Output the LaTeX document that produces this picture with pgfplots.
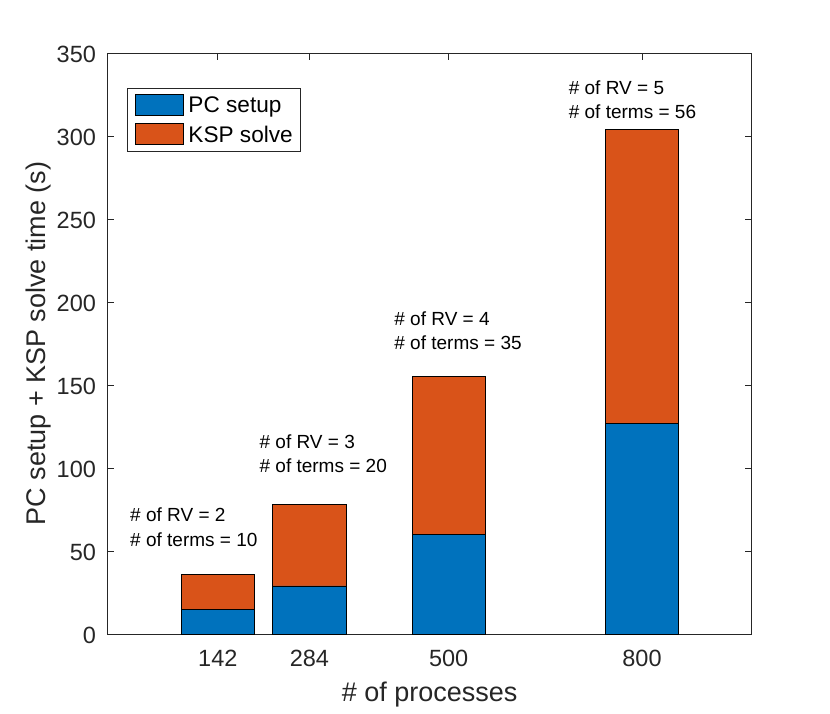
\documentclass[border=0pt]{standalone}
\usepackage{pgfplots}
\pgfplotsset{compat=1.18}
\usepackage{fontspec}
\setmainfont{Liberation Sans}
\definecolor{mblue}{RGB}{0,114,189}
\definecolor{morange}{RGB}{217,83,25}
\definecolor{axgray}{RGB}{38,38,38}
\begin{document}
\begin{tikzpicture}
\path[use as bounding box] (0,0) rectangle (830pt,713pt);
\begin{axis}[
  at={(107.6pt,79pt)}, anchor=south west,
  scale only axis, width=644pt, height=581pt,
  xmin=-29, xmax=970, ymin=0, ymax=350,
  xtick={142,284,500,800}, ytick={0,50,...,350},
  ybar stacked, bar width=113.6, bar shift=0pt,
  clip=false,
  axis line style={axgray, line width=0.8pt},
  tick style={axgray, line width=0.8pt},
  major tick length=6.5pt,
  tick align=inside,
  /pgf/number format/assume math mode=true,
  ticklabel style={font=\fontsize{23.5}{28}\selectfont, text=axgray},
  xticklabel style={inner sep=0pt, anchor=north, yshift=-16pt},
  yticklabel style={inner sep=0pt, anchor=east, xshift=-11.5pt, yshift=-1.5pt},
  xlabel={\# of processes},
  ylabel={PC setup + KSP solve time (s)},
  xlabel style={at={(axis description cs:0.5,0)}, anchor=base, yshift=-67pt, font=\fontsize{27}{30}\selectfont, text=axgray},
  ylabel style={at={(axis description cs:-0.0972,0.5)}, anchor=base, font=\fontsize{27}{30}\selectfont, text=axgray},
  legend style={at={(axis description cs:0.0301,0.9398)}, anchor=north west,
    draw=axgray, line width=0.6pt, fill=white,
    inner xsep=8pt, inner ysep=6pt, row sep=7.5pt, column sep=4.6pt,
    font=\fontsize{22.6}{26}\selectfont,
    nodes={inner sep=0pt, text depth=0pt}},
  legend cell align=left,
  legend image code/.code={\draw[#1] (0pt,-10.5pt) rectangle (48pt,10.5pt);},
]
\addplot[fill=mblue, draw=black, line width=0.6pt] coordinates {(142,15) (284,29) (500,60) (800,127)};
\addlegendentry{PC setup}
\addplot[fill=morange, draw=black, line width=0.6pt] coordinates {(142,21) (284,49) (500,95) (800,177)};
\addlegendentry{KSP solve}

\node[anchor=base west, inner sep=0pt, font=\fontsize{19}{22}\selectfont] at (axis cs:5.8,67.65) {\# of RV = 2};
\node[anchor=base west, inner sep=0pt, font=\fontsize{19}{22}\selectfont] at (axis cs:5.8,53.0) {\# of terms = 10};
\node[anchor=base west, inner sep=0pt, font=\fontsize{19}{22}\selectfont] at (axis cs:206.5,111.9) {\# of RV = 3};
\node[anchor=base west, inner sep=0pt, font=\fontsize{19}{22}\selectfont] at (axis cs:206.5,97.4) {\# of terms = 20};
\node[anchor=base west, inner sep=0pt, font=\fontsize{19}{22}\selectfont] at (axis cs:415.6,186.1) {\# of RV = 4};
\node[anchor=base west, inner sep=0pt, font=\fontsize{19}{22}\selectfont] at (axis cs:415.6,171.5) {\# of terms = 35};
\node[anchor=base west, inner sep=0pt, font=\fontsize{19}{22}\selectfont] at (axis cs:686.2,325.1) {\# of RV = 5};
\node[anchor=base west, inner sep=0pt, font=\fontsize{19}{22}\selectfont] at (axis cs:686.2,310.7) {\# of terms = 56};
\end{axis}
\end{tikzpicture}
\end{document}
